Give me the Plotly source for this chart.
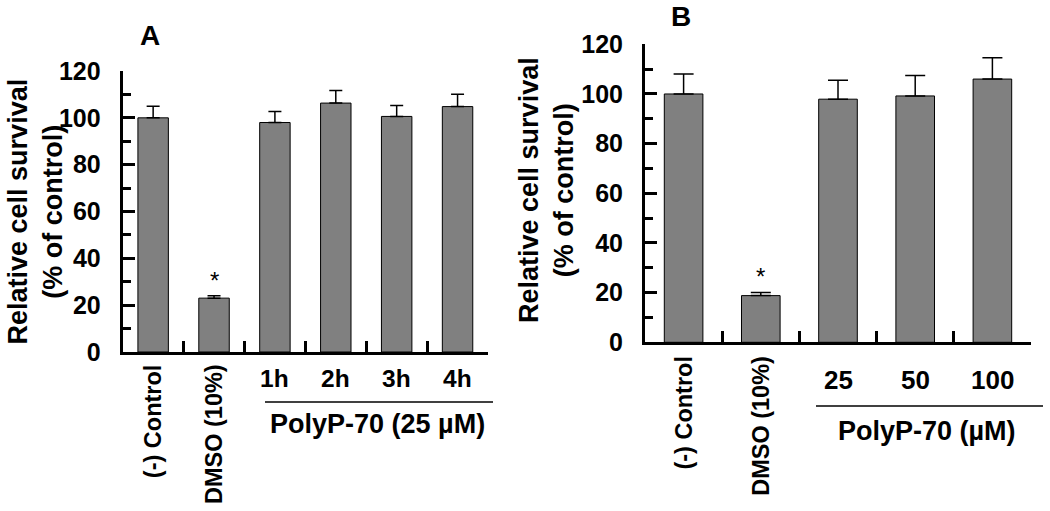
import plotly.graph_objects as go

W, H = 1050, 511

# ---------------- data ----------------
cats_a = ["(-) Control", "DMSO (10%)", "1h", "2h", "3h", "4h"]
vals_a = [100, 23, 98, 106.3, 100.6, 104.8]
err_a = [4.9, 1.0, 4.7, 5.4, 4.7, 5.3]
rotated_a = [True, True, False, False, False, False]
group_a = "PolyP-70 (25 µM)"

cats_b = ["(-) Control", "DMSO (10%)", "25", "50", "100"]
vals_b = [100, 18.8, 97.9, 99.2, 106.0]
err_b = [8.0, 1.3, 7.6, 8.2, 8.6]
rotated_b = [True, True, False, False, False]
group_b = "PolyP-70 (µM)"

star_cat = "DMSO (10%)"
y_title = "Relative cell survival<br>(% of control)"

FONT = "Arial, Liberation Sans, sans-serif"


def px(x):
    return x / W


def py(y):
    return 1 - y / H


fig = go.Figure()

for cats, vals, errs, xa, ya, cw in [
    (cats_a, vals_a, err_a, "x", "y", 6.5),
    (cats_b, vals_b, err_b, "x2", "y2", 10),
]:
    fig.add_trace(go.Bar(
        x=list(range(len(cats))), y=vals, width=0.5, xaxis=xa, yaxis=ya,
        marker=dict(color="#808080", line=dict(color="black", width=1)),
        error_y=dict(type="data", array=errs, arrayminus=[0] * len(errs),
                     symmetric=False, color="black", thickness=1.5, width=cw),
        showlegend=False, hoverinfo="skip",
    ))

yaxis_common = dict(
    range=[0, 120], tick0=0, dtick=20, ticks="inside", ticklen=12, tickwidth=2.5,
    tickcolor="black", showline=True, linewidth=3, linecolor="black",
    showgrid=False, zeroline=False, ticklabelstandoff=14, automargin=False,
    tickfont=dict(family=FONT, size=25, color="black", weight="bold"),
    minor=dict(dtick=10, tick0=0, ticks="inside", ticklen=8, tickwidth=2.5,
               tickcolor="black", showgrid=False),
)
xaxis_common = dict(
    ticks="inside", ticklen=11, tickwidth=2.5, tickcolor="black",
    showline=True, linewidth=3, linecolor="black", automargin=False,
    showgrid=False, zeroline=False, showticklabels=False,
)

fig.update_layout(
    template="none",
    width=W, height=H, autosize=False,
    margin=dict(l=0, r=0, t=0, b=0, pad=0, autoexpand=False),
    paper_bgcolor="white", plot_bgcolor="white",
    font=dict(family=FONT, color="black"),
    xaxis=dict(domain=[px(122.7), px(488)], anchor="y",
               range=[-0.5, len(cats_a) - 0.5],
               tickmode="linear", tick0=0.5, dtick=1, **xaxis_common),
    yaxis=dict(domain=[py(352), py(71)], anchor="x", **yaxis_common),
    xaxis2=dict(domain=[px(645), px(1031)], anchor="y2",
                range=[-0.5, len(cats_b) - 0.5],
                tickmode="linear", tick0=0.5, dtick=1, **xaxis_common),
    yaxis2=dict(domain=[py(342.3), py(44.3)], anchor="x2", **yaxis_common),
)

ann = []
bold = dict(family=FONT, color="black", weight="bold")

# category labels
for cats, rot, xr, ylab_rot, ylab_h, hsize in [
    (cats_a, rotated_a, "x", 362, 378, 24.5),
    (cats_b, rotated_b, "x2", 354, 380, 26),
]:
    for i, (c, r) in enumerate(zip(cats, rot)):
        if r:
            ann.append(dict(x=i, xref=xr, y=py(ylab_rot), yref="paper",
                            text=c, textangle=-90, showarrow=False,
                            xanchor="center", yanchor="top",
                            font=dict(size=23.5, **bold)))
        else:
            ann.append(dict(x=i, xref=xr, y=py(ylab_h), yref="paper",
                            text=c, showarrow=False,
                            xanchor="center", yanchor="middle",
                            font=dict(size=hsize, **bold)))

# group labels
ann.append(dict(x=px(377), y=py(424), xref="paper", yref="paper", text=group_a,
                showarrow=False, xanchor="center", yanchor="middle",
                font=dict(size=27, **bold)))
ann.append(dict(x=px(927), y=py(431), xref="paper", yref="paper", text=group_b,
                showarrow=False, xanchor="center", yanchor="middle",
                font=dict(size=27, **bold)))

# y titles
ann.append(dict(x=px(34.5), y=py(212), xref="paper", yref="paper", text=y_title,
                textangle=-90, showarrow=False, xanchor="center", yanchor="middle",
                font=dict(size=27, **bold)))
ann.append(dict(x=px(546), y=py(190), xref="paper", yref="paper", text=y_title,
                textangle=-90, showarrow=False, xanchor="center", yanchor="middle",
                font=dict(size=27, **bold)))

# panel letters
ann.append(dict(x=px(150), y=py(35), xref="paper", yref="paper", text="A",
                showarrow=False, xanchor="center", yanchor="middle",
                font=dict(size=28, **bold)))
ann.append(dict(x=px(681), y=py(16), xref="paper", yref="paper", text="B",
                showarrow=False, xanchor="center", yanchor="middle",
                font=dict(size=28, **bold)))

# significance stars
for cats, vals, errs, xr, yr in [
    (cats_a, vals_a, err_a, "x", "y"),
    (cats_b, vals_b, err_b, "x2", "y2"),
]:
    i = cats.index(star_cat)
    ann.append(dict(x=i, xref=xr, y=vals[i] + errs[i], yref=yr, text="*",
                    showarrow=False, xanchor="center", yanchor="bottom", yshift=0,
                    font=dict(size=24, family=FONT, color="black")))

fig.update_layout(annotations=ann)

# bracket lines under the PolyP groups
fig.add_shape(type="line", xref="paper", yref="paper",
              x0=px(265), x1=px(493), y0=py(402), y1=py(402),
              line=dict(color="black", width=1.3))
fig.add_shape(type="line", xref="paper", yref="paper",
              x0=px(816), x1=px(1043), y0=py(406), y1=py(406),
              line=dict(color="black", width=1.3))

fig.write_html("out.html", config={"displayModeBar": False},
               post_script="document.body.style.margin='0';")
